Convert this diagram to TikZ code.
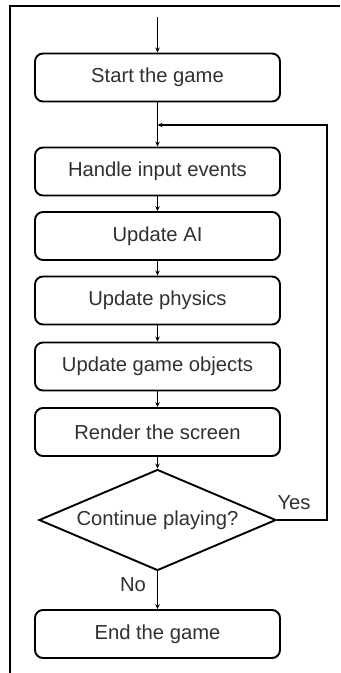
\documentclass[tikz,border=0pt]{standalone}
\usepackage{fontspec}
\setmainfont{Liberation Sans}
\usetikzlibrary{shapes.geometric,arrows.meta}
\definecolor{txt}{HTML}{303030}
\begin{document}
\begin{tikzpicture}[x=1bp,y=-1bp,
  font=\fontsize{20.3}{23}\selectfont,
  stepbox/.style={draw=black,line width=1.9bp,rounded corners=8bp,minimum width=245bp,minimum height=48bp,inner sep=0pt,text=txt},
  decbox/.style={draw=black,diamond,line width=1.9bp,shape aspect=2.36,minimum width=237bp,minimum height=101bp,inner sep=0pt,text=txt},
  conn/.style={draw=black,line width=1.5bp,-{Stealth[length=5bp,width=4.5bp]}},
  lbl/.style={text=txt,inner sep=0pt}]
\useasboundingbox (0,0) rectangle (340,673);
\draw[line width=2.6bp] (10,673) -- (10,6) -- (340,6);
\node[stepbox] (start) at (157.5,77.5) {Start the game};
\node[stepbox] (handle) at (157.5,171.5) {Handle input events};
\node[stepbox] (ai) at (157.5,236) {Update AI};
\node[stepbox] (phys) at (157.5,300.5) {Update physics};
\node[stepbox] (obj) at (157.5,366.5) {Update game objects};
\node[stepbox] (render) at (157.5,432) {Render the screen};
\node[decbox] (dec) at (157.5,520) {Continue playing?};
\node[stepbox] (end) at (157.5,634) {End the game};
\coordinate (entry) at (157.5,17);
\coordinate (join) at (157.5,125);
\coordinate (rc) at (327,125);
\draw[conn] (entry) -- (start.north);
\draw[conn] (start.south) -- (handle.north);
\draw[conn] (handle.south) -- (ai.north);
\draw[conn] (ai.south) -- (phys.north);
\draw[conn] (phys.south) -- (obj.north);
\draw[conn] (obj.south) -- (render.north);
\draw[conn] (render.south) -- (dec.north);
\draw[conn] (dec.south) -- (end.north);
\draw[conn] (dec.east) -- (rc |- dec.east) -- (rc) -- (join);
\node[lbl] (yes) at (294,502.5) {Yes};
\node[lbl] (no) at (133,585) {No};
\end{tikzpicture}
\end{document}
